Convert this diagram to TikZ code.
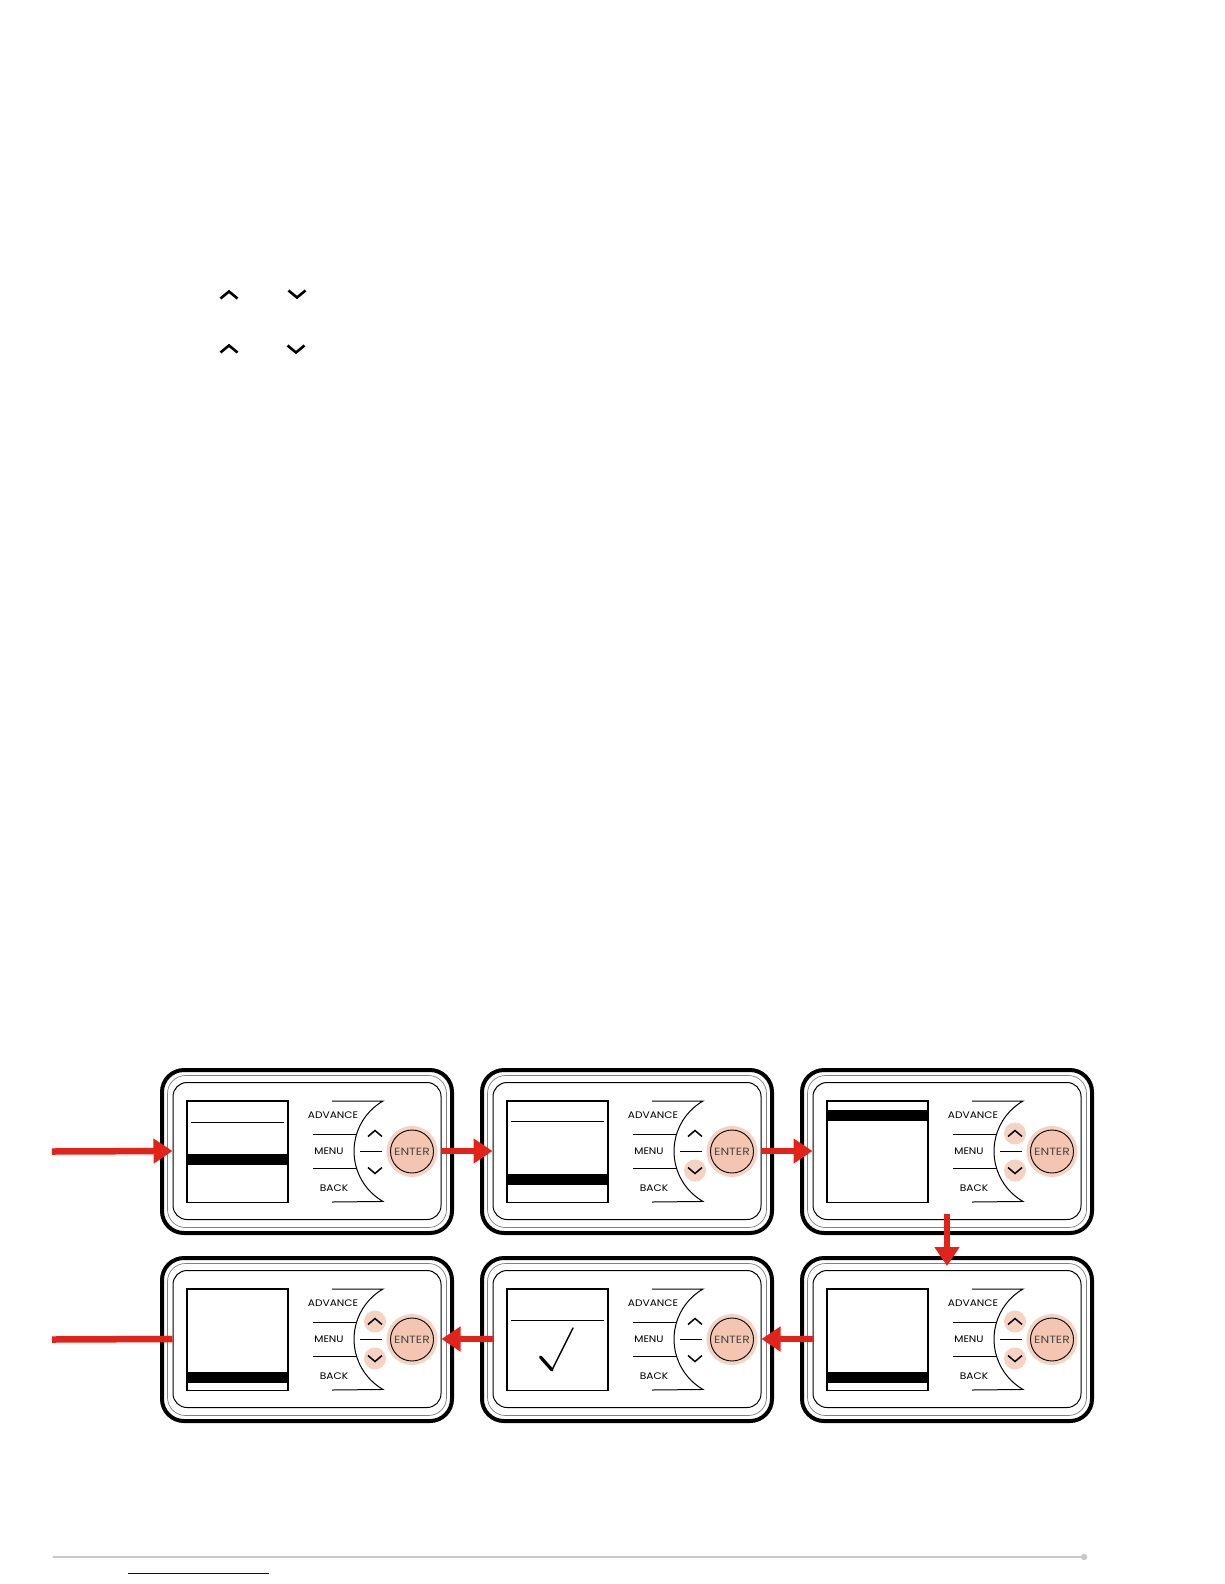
\documentclass[tikz,border=0pt]{standalone}
\usepackage{fontspec}
\usepackage{graphicx}
\setmainfont{Poppins}
\usetikzlibrary{arrows.meta}
\definecolor{arrred}{RGB}{226,35,26}
\definecolor{peach}{RGB}{246,210,194}
\definecolor{peachin}{RGB}{244,198,178}
\definecolor{entergray}{RGB}{70,70,70}
\definecolor{footgray}{RGB}{200,200,200}
\definecolor{linknavy}{RGB}{0,0,128}
\newcommand\btn[1]{\scalebox{1.12}[1]{#1}}
\newcommand\btnenter[1]{\scalebox{1.18}[1]{#1}}
\tikzset{
  btntext/.style={inner sep=0pt, font=\fontsize{9.5pt}{10pt}\selectfont},
  entertext/.style={inner sep=0pt, text=entergray, font=\fontsize{10.5pt}{11pt}\selectfont},
  chevbtn/.style={line width=1.5pt, miter limit=10},
  chevtop/.style={line width=2.6pt, miter limit=10},
  redarrow/.style={draw=arrred, line width=6.5pt, -{Triangle[length=19pt,width=24pt]}},
  redline/.style={draw=arrred, line width=6.5pt},
}
% #1 name, #2 cx, #3 cy, #4 screen content, #5 highlight code
\newcommand\dpanel[5]{%
 \begin{scope}[shift={(#2,#3)}]
  \draw[line width=4pt, rounded corners=22pt] (-145,-81.5) rectangle (145,81.5);
  \draw[line width=0.7pt, gray, rounded corners=18pt] (-139.5,-76) rectangle (139.5,76);
  \node[draw, line width=1pt, rounded corners=14pt, minimum width=268pt, minimum height=137pt, inner sep=0pt] (#1) at (0,-0.5) {};
  % screen
  \draw[line width=1.5pt] (-120,-50.5) rectangle (-19,51);
  #4
  % buttons outline
  \draw[line width=1pt] (25,-50.5) -- (76,-50.5) arc[start angle=240, end angle=120, radius=58] -- (25,50.5);
  \draw[line width=1pt] (6,-17) -- (50,-17);
  \draw[line width=1pt] (6,17) -- (50,17);
  \draw[line width=1pt] (53,0) -- (75,0);
  \node[btntext] (#1-adv) at (26,-36) {\btn{ADVANCE}};
  \node[btntext] (#1-menu) at (22,0) {\btn{MENU}};
  \node[btntext] (#1-back) at (27,36.5) {\btn{BACK}};
  % highlights
  #5
  \draw[chevbtn] (61,-15) -- (68,-21) -- (75,-15);
  \draw[chevbtn] (61,16) -- (68,22) -- (75,16);
  % enter
  \fill[peach] (105,0) circle[radius=25.5pt];
  \draw[line width=0.9pt, fill=peachin] (105,0) circle[radius=21.5pt];
  \node[entertext] (#1-enter) at (105,0) {\btnenter{ENTER}};
 \end{scope}}
\newcommand\hlup{\fill[peach] (68,-18) circle[radius=11pt];}
\newcommand\hldown{\fill[peach] (68,19) circle[radius=11pt];}
\begin{document}
\begin{tikzpicture}[x=1pt,y=-1pt]
\useasboundingbox (0,0) rectangle (1224,1584);
\fill[white] (0,0) rectangle (1224,1584);

% standalone chevrons near top
\draw[chevtop] (220.5,298.5) -- (229,291.5) -- (237.5,298.5);
\draw[chevtop] (288.5,290.5) -- (297,297.5) -- (305.5,290.5);
\draw[chevtop] (220.5,352.5) -- (229,345.5) -- (237.5,352.5);
\draw[chevtop] (287.5,345.5) -- (296,352.5) -- (304.5,345.5);

% row 1
\dpanel{p1}{307}{1151.5}{%
  \draw[line width=1pt] (-116,-29.5) -- (-23,-29.5);
  \fill (-120,2) rectangle (-19,13);}{}
\dpanel{p2}{627}{1151.5}{%
  \draw[line width=1pt] (-116,-30.5) -- (-23,-30.5);
  \fill (-120,22.5) rectangle (-19,33.5);}{\hldown}
\dpanel{p3}{947}{1151.5}{%
  \fill (-120,-41.5) rectangle (-19,-30.5);}{\hlup\hldown}
% row 2
\dpanel{p4}{307}{1339.5}{%
  \fill (-120,32.5) rectangle (-19,43.5);}{\hlup\hldown}
\dpanel{p5}{627}{1339.5}{%
  \draw[line width=1pt] (-116,-19.5) -- (-23,-19.5);
  \draw[line width=3.2pt, line cap=round] (-86.5,17.5) -- (-75,30.5);
  \draw[line width=1.5pt, line cap=round] (-75,30.5) -- (-54,-11.5);}{}
\dpanel{p6}{947}{1339.5}{%
  \fill (-120,32.5) rectangle (-19,43.5);}{\hlup\hldown}

% connectors
\coordinate (in) at (52,1151.5);
\coordinate (out) at (52,1339.5);
\draw[redarrow] (in) -- (p1.west);
\draw[redarrow] (p1.east) -- (p2.west);
\draw[redarrow] (p2.east) -- (p3.west);
\draw[redarrow, shorten <=-6pt, shorten >=4pt] (p3.south) -- (p6.north);
\draw[redarrow] (p6.west) -- (p5.east);
\draw[redarrow] (p5.west) -- (p4.east);
\draw[redline] (p4.west) -- (out);

% footer
\draw[footgray, line width=2pt] (53,1557) -- (1084,1557);
\fill[footgray] (1084,1557) circle[radius=3.2pt];
\draw[linknavy, line width=1pt] (128,1573) -- (269,1573);
\end{tikzpicture}
\end{document}
